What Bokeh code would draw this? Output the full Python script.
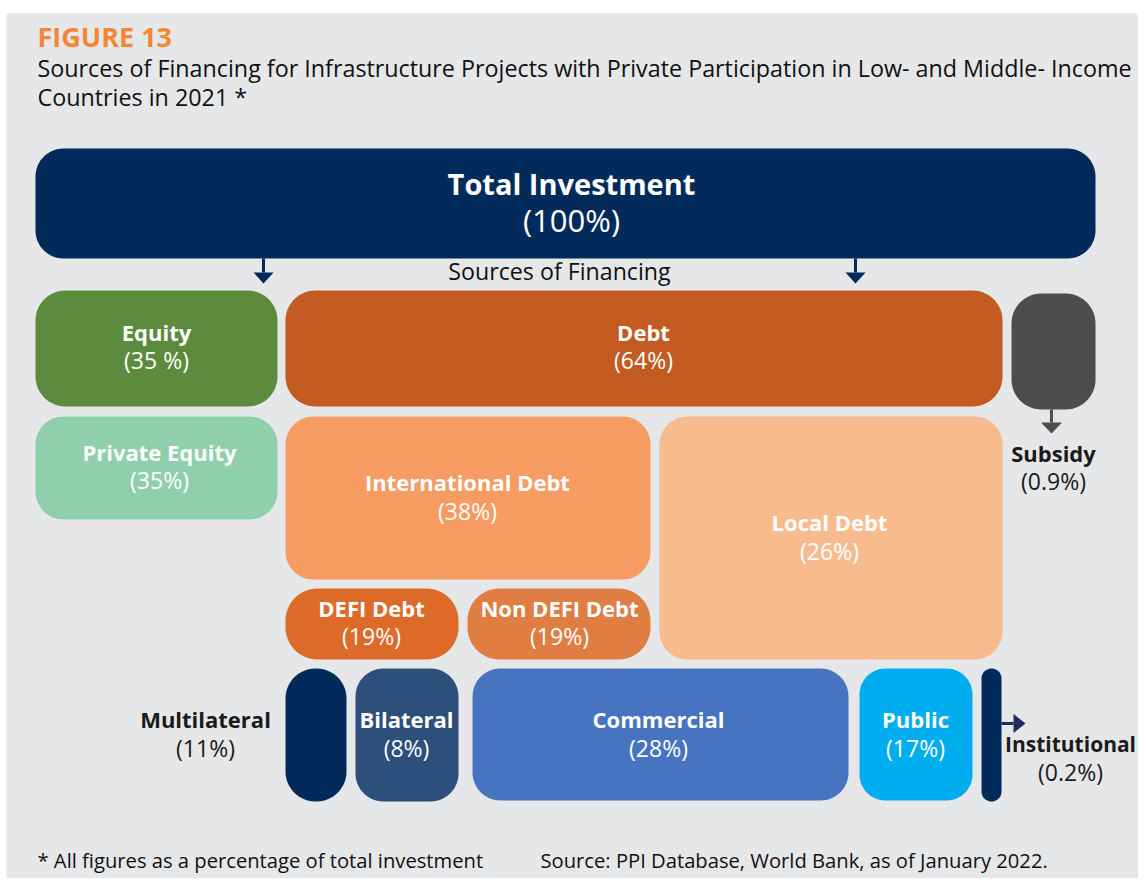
import numpy as np
from bokeh.plotting import figure
from bokeh.models import Range1d, ColumnDataSource
from bokeh.core.properties import value
from bokeh.embed import file_html
from bokeh.resources import INLINE

# ---------------- data ----------------
node_names = ["Total Investment", "Equity", "Debt", "Subsidy", "Private Equity",
              "International Debt", "Local Debt", "DEFI Debt", "Non DEFI Debt",
              "Multilateral", "Bilateral", "Commercial", "Public", "Institutional"]
node_shares = [100, 35, 64, 0.9, 35, 38, 26, 19, 19, 11, 8, 28, 17, 0.2]
share_labels = ["(100%)", "(35 %)", "(64%)", "(0.9%)", "(35%)", "(38%)", "(26%)",
                "(19%)", "(19%)", "(11%)", "(8%)", "(28%)", "(17%)", "(0.2%)"]

title_text = "FIGURE 13"
subtitle_lines = ["Sources of Financing for Infrastructure Projects with Private Participation in Low- and Middle- Income",
                  "Countries in 2021 *"]
middle_caption = "Sources of Financing"
footnote_left = "* All figures as a percentage of total investment"
footnote_right = "Source: PPI Database, World Bank, as of January 2022."

# ---------------- layout / style ----------------
node_colors = ["#022b5b", "#5c8b3e", "#c25a21", "#4d4d4f", "#8fcfab",
               "#f69b61", "#f8bb8e", "#de6a2a", "#e07d43",
               "#022b5b", "#2c4f7b", "#4774c1", "#00aeef", "#022b5b"]
# (left, right, top, bottom, radius) in page pixels
node_boxes = [(35, 1095, 148, 258, 28), (35, 277, 290, 406, 30), (285, 1002, 290, 406, 30),
              (1011, 1095, 293, 409, 30), (35, 277, 416, 519, 28), (285, 650, 416, 579, 28),
              (659, 1002, 416, 659, 28), (285, 458, 588, 659, 32), (467, 650, 588, 659, 32),
              (285, 346, 668, 801, 30), (355, 458, 668, 801, 28), (472, 848, 668, 800, 28),
              (859, 972, 668, 800, 26), (981, 1001, 668, 801, 10)]
# (center x, title y, share y)
label_pos = [(571, 183, 219), (156, 331, 359), (643, 331, 359), (1053, 452, 480),
             (159, 451, 479), (467, 481, 510), (829, 521, 550), (371, 607, 635),
             (559, 607, 635), (205, 718, 747), (406, 718, 747), (658, 718, 747),
             (915, 718, 747), (1070, 743, 771)]
label_outside = [False, False, False, True, False, False, False, False, False,
                 True, False, False, False, True]
title_sizes = ["29px"] + ["22px"] * 12 + ["21px"]
share_sizes = ["31px"] + ["23px"] * 13
# arrows: (x0, y0, x1, y1, head width, head length, color)
arrows = [(263, 258, 263, 283, 20, 11, "#022b5b"), (855, 258, 855, 283, 20, 11, "#022b5b"),
          (1051, 409, 1051, 433, 21, 11, "#4d4d4f"), (1001, 723, 1025, 723, 19, 12, "#1f2d5a")]

BG = "#e6e7e8"
FONT = "Open Sans"
W, H = 1138, 878

p = figure(width=W, height=H, output_backend="svg", toolbar_location=None,
           x_range=Range1d(0, W), y_range=Range1d(H, 0),
           min_border=0, background_fill_color="white", border_fill_color="white")
p.xaxis.visible = False
p.yaxis.visible = False
p.grid.visible = False
p.outline_line_color = None

# grey panel
p.quad(left=[6], right=[1200], top=[13], bottom=[900], fill_color=BG, line_color=None)


def rounded(l, r, t, b, rad, n=14):
    rad = min(rad, (r - l) / 2, (b - t) / 2)
    xs, ys = [], []
    for cx, cy, a0, a1 in [(r - rad, t + rad, -90, 0), (r - rad, b - rad, 0, 90),
                           (l + rad, b - rad, 90, 180), (l + rad, t + rad, 180, 270)]:
        a = np.radians(np.linspace(a0, a1, n))
        xs.extend(cx + rad * np.cos(a))
        ys.extend(cy + rad * np.sin(a))
    return list(xs), list(ys)


bx, by = [], []
for (l, r, t, b, rad) in node_boxes:
    xs, ys = rounded(l, r, t, b, rad)
    bx.append(xs)
    by.append(ys)
p.patches(xs=bx, ys=by, fill_color=node_colors, line_color=None)

# arrows
for (x0, y0, x1, y1, hw, hl, c) in arrows:
    d = np.array([x1 - x0, y1 - y0], dtype=float)
    L = np.hypot(*d)
    u = d / L
    nrm = np.array([-u[1], u[0]])
    base = np.array([x1, y1]) - u * hl
    p.segment(x0=[x0], y0=[y0], x1=[base[0]], y1=[base[1]], line_color=c, line_width=3)
    tri = [np.array([x1, y1]), base + nrm * hw / 2, base - nrm * hw / 2]
    p.patch(x=[q[0] for q in tri], y=[q[1] for q in tri], fill_color=c, line_color=None)


def txt(xs, ys, texts, size, color="#1a1a1a", bold=False, align="center", font=FONT):
    n = len(xs)
    src = ColumnDataSource(dict(x=xs, y=ys, text=texts,
                                color=color if isinstance(color, list) else [color] * n,
                                size=size if isinstance(size, list) else [size] * n))
    p.text(x="x", y="y", text="text", source=src, text_color="color", text_align=align,
           text_baseline="middle", text_font=value(font), text_font_size="size",
           text_font_style="bold" if bold else "normal")


# node labels
tc = ["#1a1a1a" if o else "white" for o in label_outside]
txt([q[0] for q in label_pos], [q[1] for q in label_pos], node_names, title_sizes, tc, bold=True)
txt([q[0] for q in label_pos], [q[2] for q in label_pos], share_labels, share_sizes, tc)

# headings
txt([37], [36], [title_text], "27px", "#f58634", bold=True, align="left")
txt([37, 37], [67, 96], subtitle_lines, "23.3px", "#111111", align="left")
txt([559], [270], [middle_caption], "23.2px", "#111111")
txt([37], [859], [footnote_left], "20.2px", "#111111", align="left")
txt([540], [859], [footnote_right], "20.2px", "#111111", align="left")

open("out.html", "w").write(file_html(p, INLINE))
